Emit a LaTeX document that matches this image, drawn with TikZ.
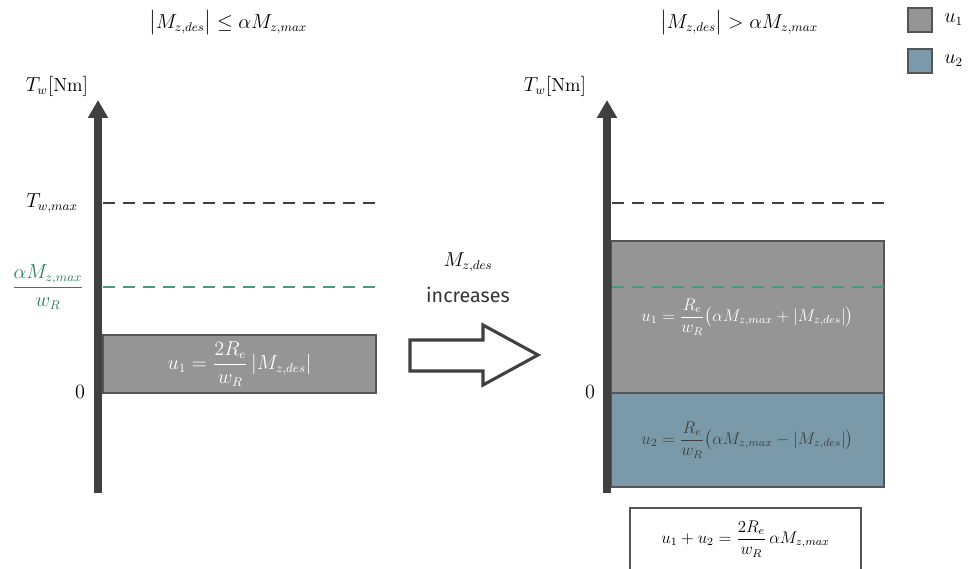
\documentclass[tikz,border=0pt]{standalone}
\usepackage{amsmath}
\usepackage{fontspec}
\setsansfont{Fira Sans}
\usepackage{xcolor}
\usepackage{tikz}
\usetikzlibrary{arrows.meta, positioning}

\definecolor{axisgray}{HTML}{404040}
\definecolor{uonefill}{HTML}{959595}
\definecolor{utwofill}{HTML}{7A9AAA}
\definecolor{boxline}{HTML}{555555}
\definecolor{limgreen}{HTML}{4A9A80}
\definecolor{labgreen}{HTML}{2E7D5E}

\begin{document}
\begin{tikzpicture}[x=0.025cm, y=-0.025cm, >=latex, font=\large,
		axis/.style={line width=5.7pt, draw=axisgray, -{Triangle[width=0.48cm, length=0.45cm]}},
		limline/.style={line width=1.3pt, dash pattern=on 8.5pt off 5.7pt},
		ubox/.style={rectangle, draw=boxline, line width=0.8pt, minimum width=6.825cm, inner sep=0pt},
		legbox/.style={rectangle, draw=boxline, line width=0.8pt, minimum size=0.6cm, inner sep=0pt},
		bigtxt/.style={font=\fontsize{13.5}{16}\selectfont, inner sep=1pt}]
		\useasboundingbox (0,0) rectangle (970,569);
		
		% --- Titres des deux cas ---
		\node[bigtxt] (title_l) at (228,23) {$\bigl|M_{z,des}\bigr| \leq \alpha M_{z,max}$};
		\node[bigtxt] (title_r) at (739,23) {$\bigl|M_{z,des}\bigr| > \alpha M_{z,max}$};
		
		% --- Légende ---
		\node[legbox, fill=uonefill] (leg_u1) at (920,20) {};
		\node[legbox, fill=utwofill] (leg_u2) at (920,61) {};
		\node[right=0.25cm of leg_u1, bigtxt] (leg_u1_txt) {$u_1$};
		\node[right=0.25cm of leg_u2, bigtxt] (leg_u2_txt) {$u_2$};
		
		% --- Cas de GAUCHE ---
		\node[ubox, fill=uonefill, minimum height=1.45cm, text=white, font=\fontsize{13.5}{16}\selectfont] (u1_l) at (239.5,364) {$u_1 = \dfrac{2R_e}{w_R}\,|M_{z,des}|$};
		\coordinate (ax_l_bot) at (98,493);
		\coordinate (ax_l_top) at (98,100);
		\coordinate (tmax_l_a) at (103,203);
		\coordinate (tmax_l_b) at (375,203);
		\coordinate (lim_l_a) at (103,287);
		\coordinate (lim_l_b) at (375,287);
		\draw[limline, draw=axisgray] (tmax_l_a) -- (tmax_l_b);
		\draw[limline, draw=limgreen] (lim_l_a) -- (lim_l_b);
		\draw[axis] (ax_l_bot) -- (ax_l_top);
		\node[bigtxt] (tw_l) at (57,86) {$T_w[\mathrm{Nm}]$};
		\node[bigtxt] (tmax_lab) at (52,203) {$T_{w,max}$};
		\node[bigtxt, text=labgreen] (lim_lab) at (48,287) {$\dfrac{\alpha M_{z,max}}{w_R}$};
		\node[bigtxt] (zero_l) at (80,392) {$0$};
		
		% --- Flèche du milieu ---
		\node[bigtxt] (mz_txt) at (468,262) {$M_{z,des}$};
		\node[below=0.3cm of mz_txt, font=\sffamily\fontsize{14}{17}\selectfont, inner sep=1pt, text=axisgray!80!black] (incr_txt) {increases};
		\draw[line width=2.2pt, draw=axisgray] (410,340) -- (483,340) -- (483,325) -- (538,355)
			-- (483,385) -- (483,371) -- (410,371) -- cycle;
		
		% --- Cas de DROITE ---
		\node[ubox, fill=uonefill, minimum height=3.8cm, text=white] (u1_r) at (747.5,317) {$u_1 = \dfrac{R_e}{w_R}\bigl(\alpha M_{z,max} + |M_{z,des}|\bigr)$};
		\node[ubox, fill=utwofill, minimum height=2.35cm, text=axisgray] (u2_r) at (747.5,440) {$u_2 = \dfrac{R_e}{w_R}\bigl(\alpha M_{z,max} - |M_{z,des}|\bigr)$};
		\coordinate (ax_r_bot) at (607,493);
		\coordinate (ax_r_top) at (607,100);
		\coordinate (tmax_r_a) at (612,203);
		\coordinate (tmax_r_b) at (885,203);
		\coordinate (lim_r_a) at (612,287);
		\coordinate (lim_r_b) at (888,287);
		\draw[limline, draw=axisgray] (tmax_r_a) -- (tmax_r_b);
		\draw[limline, draw=limgreen] (lim_r_a) -- (lim_r_b);
		\draw[axis] (ax_r_bot) -- (ax_r_top);
		\node[bigtxt] (tw_r) at (555,86) {$T_w[\mathrm{Nm}]$};
		\node[bigtxt] (zero_r) at (590,392) {$0$};
		
		% --- Somme (en bas) ---
		\node[rectangle, draw=boxline, line width=0.8pt, minimum width=5.775cm, minimum height=1.65cm] (sum_box) at (745.5,541) {};
		\node (sum_txt) at (745.5,539) {$u_1 + u_2 = \dfrac{2R_e}{w_R}\,\alpha M_{z,max}$};
		
	\end{tikzpicture}
\end{document}
